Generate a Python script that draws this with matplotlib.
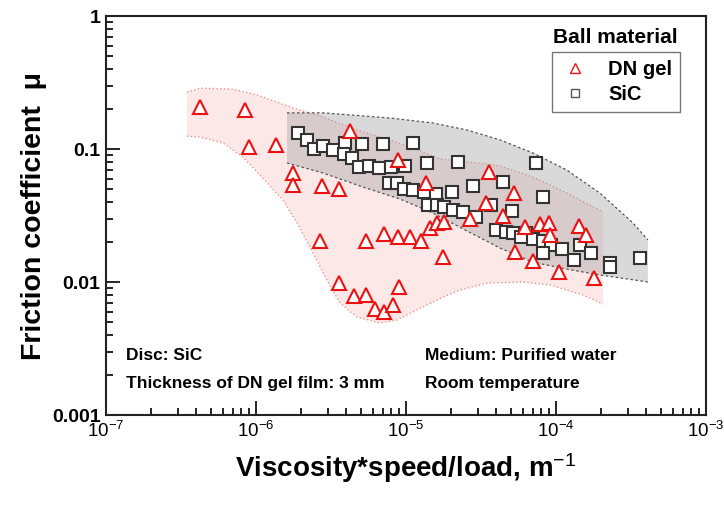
import numpy as np
import matplotlib.pyplot as plt
from matplotlib.ticker import LogLocator, NullFormatter, FixedFormatter, FixedLocator

plt.rcParams['font.family'] = ['Liberation Sans', 'DejaVu Sans']
plt.rcParams['mathtext.fontset'] = 'custom'
plt.rcParams['mathtext.rm'] = 'Liberation Sans'
plt.rcParams['mathtext.it'] = 'Liberation Sans'
plt.rcParams['mathtext.bf'] = 'Liberation Sans:bold'

# DN gel ball (triangles)
gel_x = [4.24e-7, 8.45e-7, 8.98e-7, 1.36e-6, 1.77e-6, 1.77e-6, 2.75e-6, 3.57e-6, 4.24e-6,
         2.67e-6, 5.41e-6, 7.13e-6, 8.85e-6, 1.06e-5, 1.26e-5, 1.45e-5, 1.61e-5, 1.79e-5, 1.77e-5,
         3.57e-6, 4.50e-6, 5.41e-6, 8.97e-6, 6.21e-6, 7.13e-6, 8.18e-6, 8.85e-6,
         1.36e-5, 3.57e-5, 5.25e-5, 3.41e-5, 4.43e-5, 2.67e-5, 5.33e-5, 6.21e-5, 7.82e-5,
         8.98e-5, 9.10e-5, 1.42e-4, 1.58e-4, 7.03e-5, 1.05e-4, 1.79e-4]
gel_mu = [0.207, 0.196, 0.1035, 0.107, 0.066, 0.0536, 0.0527, 0.050, 0.1365,
          0.0203, 0.0203, 0.023, 0.0218, 0.0218, 0.0203, 0.0255, 0.0278, 0.0283, 0.0154,
          0.0098, 0.00785, 0.0080, 0.00917, 0.00627, 0.00595, 0.00671, 0.0826,
          0.0555, 0.0671, 0.0467, 0.0393, 0.0313, 0.0298, 0.0168, 0.0259, 0.0273,
          0.0278, 0.0226, 0.0264, 0.0226, 0.0144, 0.0119, 0.0107]

# SiC ball (squares)
sic_x = [1.91e-6, 2.19e-6, 2.44e-6, 2.80e-6, 3.26e-6, 3.92e-6, 3.86e-6, 4.37e-6, 4.86e-6,
         5.09e-6, 5.66e-6, 6.61e-6, 7.03e-6, 7.94e-6, 9.84e-6, 1.11e-5, 1.38e-5, 2.22e-5, 7.36e-5,
         7.70e-6, 8.71e-6, 9.70e-6, 1.11e-5, 1.32e-5, 1.58e-5, 2.03e-5, 2.80e-5, 4.43e-5, 8.18e-5,
         1.40e-5, 1.61e-5, 1.79e-5, 2.06e-5, 2.40e-5, 2.93e-5, 3.69e-5, 5.09e-5,
         3.98e-5, 4.64e-5, 5.17e-5, 6.31e-5, 5.85e-5, 7.03e-5, 8.18e-5, 9.27e-5, 8.18e-5,
         1.10e-4, 1.32e-4, 1.45e-4, 1.71e-4, 2.29e-4, 2.29e-4, 3.63e-4]
sic_mu = [0.132, 0.117, 0.100, 0.105, 0.098, 0.111, 0.0917, 0.0855, 0.0732,
          0.109, 0.0745, 0.072, 0.109, 0.0732, 0.0745, 0.111, 0.0785, 0.0799, 0.0785,
          0.0555, 0.0555, 0.050, 0.0492, 0.0475, 0.0459, 0.0475, 0.0527, 0.0565, 0.0436,
          0.0379, 0.0379, 0.0366, 0.0348, 0.0336, 0.0308, 0.0379, 0.0342,
          0.0246, 0.0238, 0.0234, 0.0234, 0.0218, 0.0211, 0.0203, 0.019, 0.0165,
          0.0177, 0.0146, 0.019, 0.0165, 0.0139, 0.0130, 0.0151]

# envelopes
gel_up_x = [3.47e-7, 4.24e-7, 7.03e-7, 1.02e-6, 1.69e-6, 2.80e-6, 4.71e-6, 7.82e-6, 1.06e-5,
            1.69e-5, 3.47e-5, 4.24e-5, 7.03e-5, 1.18e-4, 2.06e-4]
gel_up_y = [0.268, 0.287, 0.282, 0.255, 0.207, 0.174, 0.139, 0.117, 0.1035,
            0.0841, 0.0771, 0.0745, 0.0616, 0.0467, 0.0336]
gel_lo_x = [3.47e-7, 4.24e-7, 6.03e-7, 8.18e-7, 1.11e-6, 1.51e-6, 1.88e-6, 2.40e-6, 2.97e-6,
            3.63e-6, 4.71e-6, 6.71e-6, 8.71e-6, 1.18e-5, 1.77e-5, 2.29e-5, 3.47e-5, 6.03e-5,
            9.10e-5, 1.51e-4, 2.06e-4]
gel_lo_y = [0.125, 0.123, 0.111, 0.0871, 0.0605, 0.0414, 0.0278, 0.0165, 0.01035,
            0.00695, 0.00546, 0.00492, 0.00518, 0.00616, 0.0077, 0.0087, 0.0098, 0.010,
            0.0095, 0.0080, 0.00684]
sic_up_x = [1.61e-6, 2.80e-6, 7.82e-6, 1.51e-5, 2.55e-5, 4.24e-5, 7.03e-5, 1.18e-4, 1.96e-4,
            3.26e-4, 4.10e-4]
sic_up_y = [0.187, 0.187, 0.171, 0.157, 0.139, 0.117, 0.0933, 0.0695, 0.0467, 0.0278, 0.0207]
sic_lo_x = [1.61e-6, 2.80e-6, 5.16e-6, 9.12e-6, 1.51e-5, 2.55e-5, 4.24e-5, 7.03e-5, 1.18e-4,
            1.96e-4, 3.26e-4, 4.10e-4]
sic_lo_y = [0.0785, 0.066, 0.0518, 0.0421, 0.033, 0.0242, 0.018, 0.0141, 0.0125,
            0.0113, 0.0104, 0.010]

x_ticks = [1e-7, 1e-6, 1e-5, 1e-4, 1e-3]
x_labels = ['$10^{-7}$', '$10^{-6}$', '$10^{-5}$', '$10^{-4}$', '$10^{-3}$']
y_ticks = [1e-3, 1e-2, 1e-1, 1]
y_labels = ['0.001', '0.01', '0.1', '1']

fig = plt.figure(figsize=(7.24, 5.18), dpi=100)
ax = fig.add_axes([0.1464, 0.1988, 0.8287, 0.7703])
ax.set_xscale('log')
ax.set_yscale('log')
ax.set_xlim(1e-7, 1e-3)
ax.set_ylim(1e-3, 1)

# pink band (DN gel)
px = np.concatenate([gel_up_x, gel_lo_x[::-1]])
py = np.concatenate([gel_up_y, gel_lo_y[::-1]])
ax.fill(px, py, color='#fde8e8', lw=0, zorder=1)
ax.plot(gel_up_x, gel_up_y, ls=(0, (1, 2)), color='#f08080', lw=0.9, zorder=2)
ax.plot(gel_lo_x, gel_lo_y, ls=(0, (1, 2)), color='#f08080', lw=0.9, zorder=2)

# gray band (SiC)
gx = np.concatenate([sic_up_x, sic_lo_x[::-1]])
gy = np.concatenate([sic_up_y, sic_lo_y[::-1]])
ax.fill(gx, gy, color='#a0a0a0', alpha=0.4, lw=0, zorder=3)
ax.plot(sic_up_x, sic_up_y, ls=(0, (2, 2)), color='#555555', lw=0.9, zorder=3)
ax.plot(sic_lo_x, sic_lo_y, ls=(0, (2, 2)), color='#555555', lw=0.9, zorder=3)

ax.plot(sic_x, sic_mu, ls='none', marker='s', ms=8, mfc='white', mec='#333333',
        mew=1.5, zorder=4)
ax.plot(gel_x, gel_mu, ls='none', marker='^', ms=9.5, mfc='white', mec='#ee1111',
        mew=1.5, zorder=5)

# legend
h1, = ax.plot([], [], ls='none', marker='^', ms=7, mfc='white', mec='#ee1111', mew=1.0)
h2, = ax.plot([], [], ls='none', marker='s', ms=6, mfc='white', mec='#555555', mew=1.0)
leg = ax.legend([h1, h2], ['DN gel', 'SiC'], loc='upper left',
                bbox_to_anchor=(0.743, 0.910), borderaxespad=0, frameon=True,
                fancybox=False, prop={'weight': 'bold', 'size': 14.5}, handletextpad=0.9,
                borderpad=0.4, labelspacing=0.3, handlelength=1.5)
leg.get_frame().set_edgecolor('#555555')
leg.get_frame().set_linewidth(1.0)
ax.text(0.745, 0.945, 'Ball material', transform=ax.transAxes, fontsize=15,
        fontweight='bold', va='center', ha='left')

# notes
note_kw = dict(transform=ax.transAxes, fontsize=12.5, fontweight='bold', va='center')
ax.text(0.033, 0.150, 'Disc: SiC', **note_kw)
ax.text(0.033, 0.080, 'Thickness of DN gel film: 3 mm', **note_kw)
ax.text(0.532, 0.150, 'Medium: Purified water', **note_kw)
ax.text(0.532, 0.080, 'Room temperature', **note_kw)

# ticks
ax.xaxis.set_major_locator(FixedLocator(x_ticks))
ax.xaxis.set_major_formatter(FixedFormatter(x_labels))
ax.xaxis.set_minor_locator(LogLocator(base=10, subs=np.arange(2, 10), numticks=20))
ax.xaxis.set_minor_formatter(NullFormatter())
ax.yaxis.set_major_locator(FixedLocator(y_ticks))
ax.yaxis.set_major_formatter(FixedFormatter(y_labels))
ax.yaxis.set_minor_locator(LogLocator(base=10, subs=np.arange(2, 10), numticks=20))
ax.yaxis.set_minor_formatter(NullFormatter())
ax.tick_params(which='both', direction='in', top=False, right=False, width=1.2)
ax.tick_params(which='major', length=10)
ax.tick_params(which='minor', length=5)
ax.tick_params(axis='x', labelsize=13.5, pad=4)
ax.tick_params(axis='y', labelsize=14, pad=4)
for lab in ax.get_yticklabels():
    lab.set_fontweight('bold')
for sp in ax.spines.values():
    sp.set_linewidth(1.5)
    sp.set_color('#222222')

ax.set_xlabel('Viscosity*speed/load, m$^{-1}$', fontsize=20, fontweight='bold')
ax.xaxis.set_label_coords(0.5, -0.09)
ax.set_ylabel('Friction coefficient  \u03bc', fontsize=20.5, fontweight='bold')
ax.yaxis.set_label_coords(-0.098, 0.5)

fig.savefig('out.png', dpi=100)
